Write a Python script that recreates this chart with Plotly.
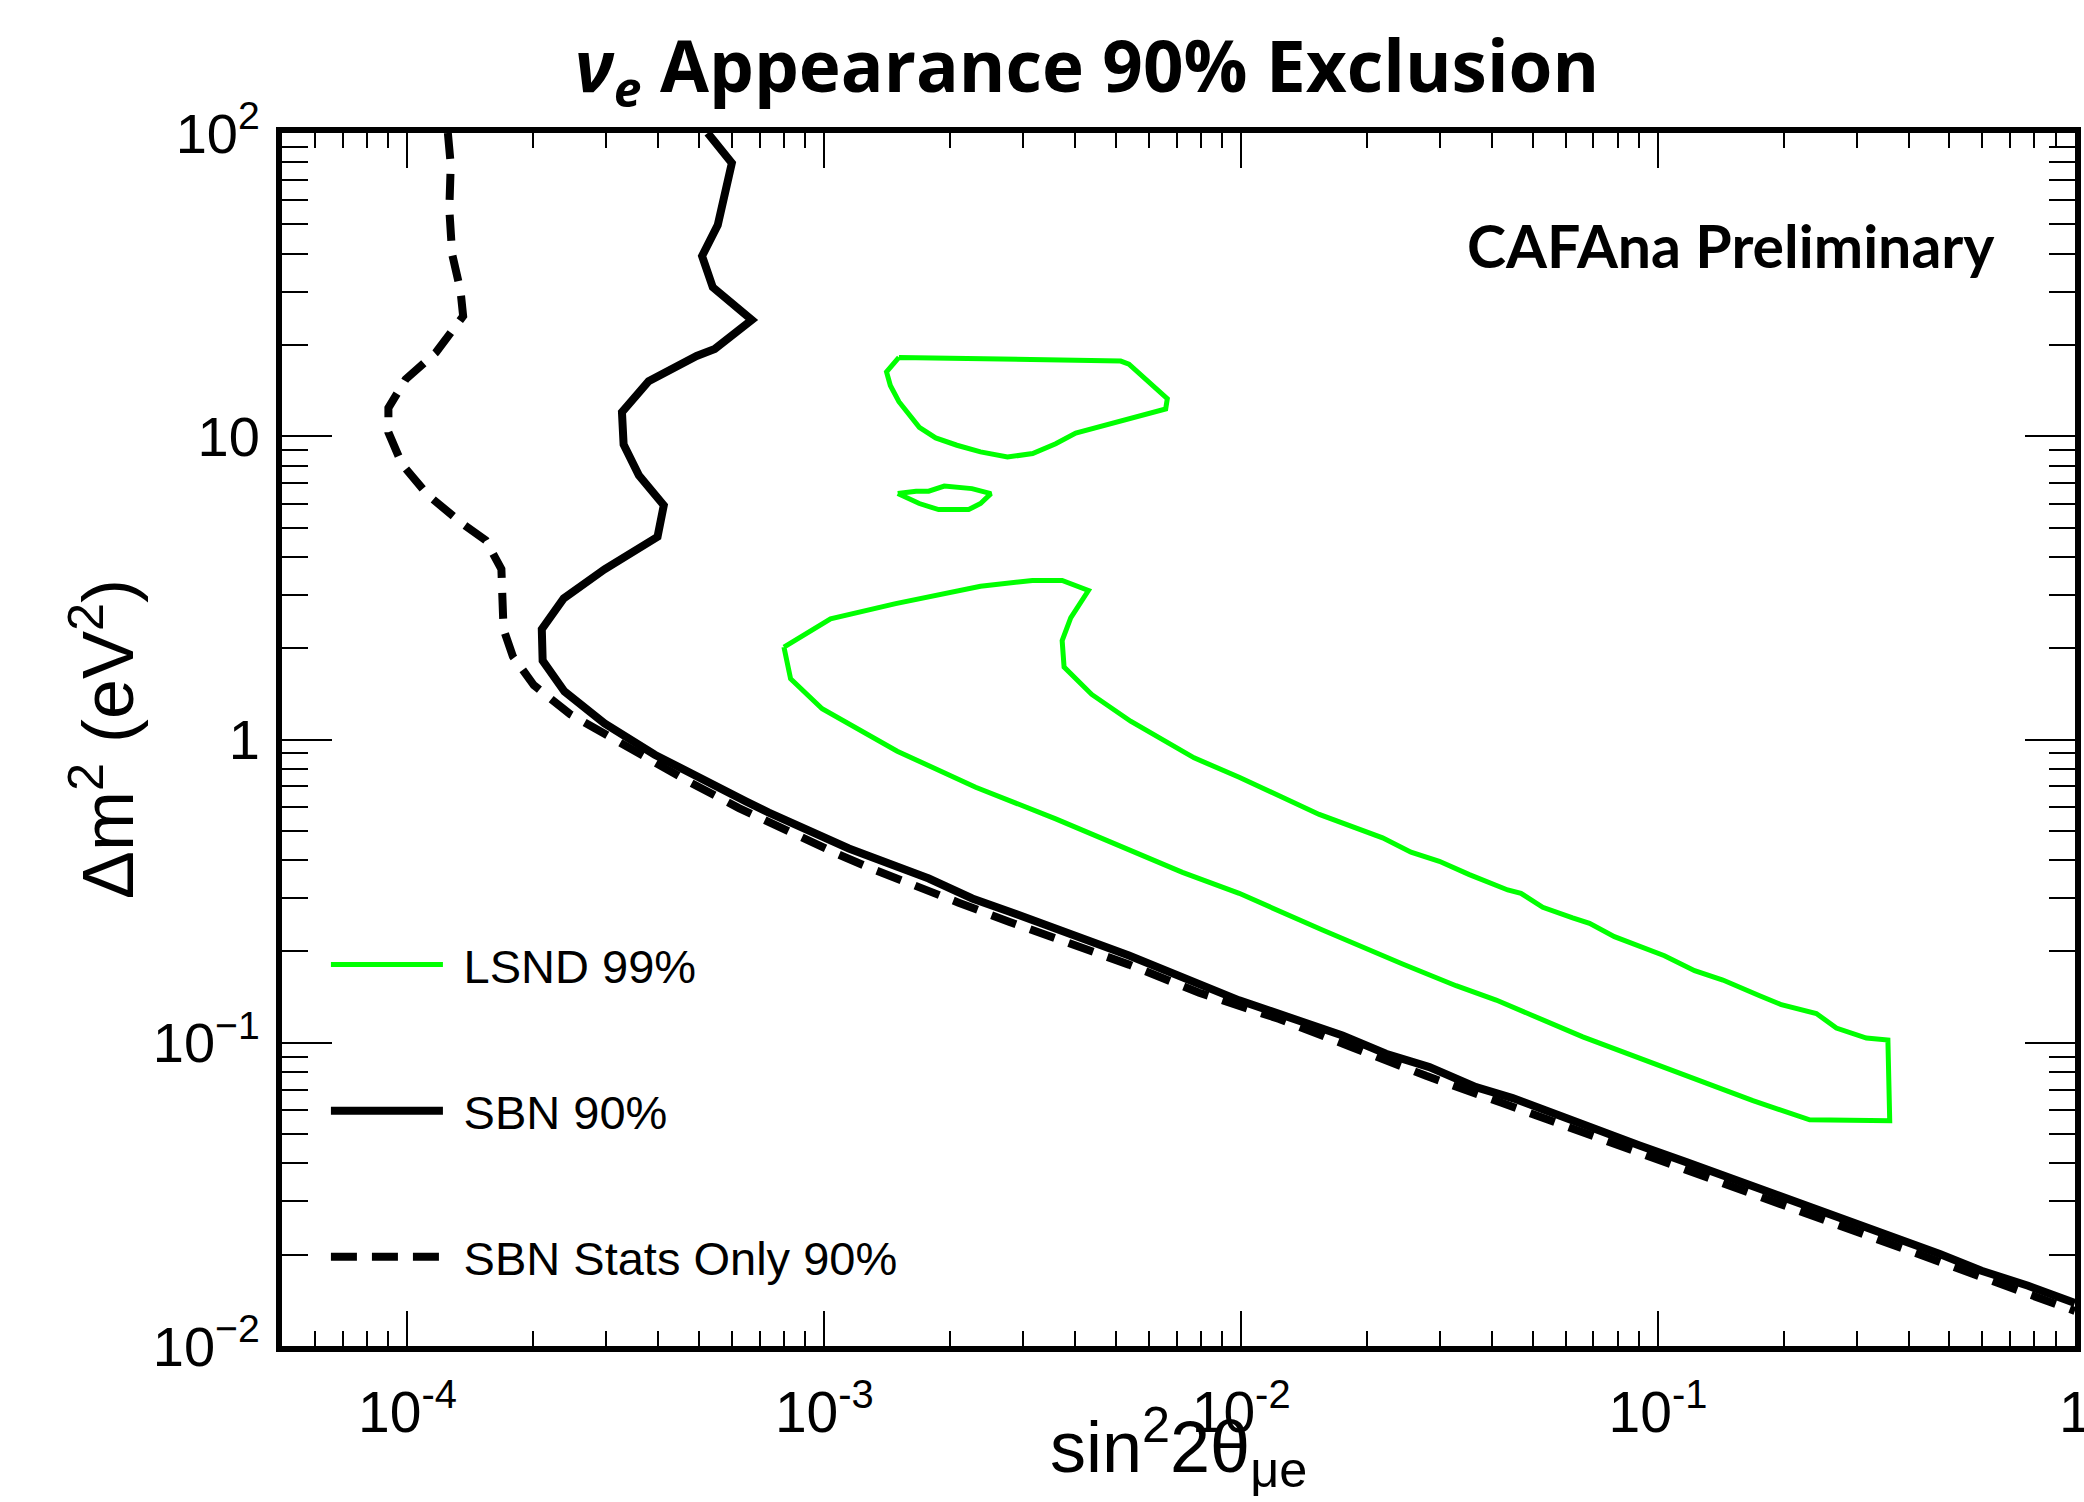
import plotly.graph_objects as go

# ---------------- data ----------------
# SBN 90% sensitivity (solid black)
sbn_x = [5.25e-4, 6.0e-4, 5.55e-4, 5.09e-4, 5.4e-4, 6.7e-4, 5.46e-4, 4.94e-4, 3.79e-4, 3.27e-4,
         3.3e-4, 3.59e-4, 4.12e-4, 3.98e-4, 2.97e-4, 2.37e-4, 2.1e-4, 2.11e-4, 2.38e-4, 2.97e-4,
         3.92e-4, 5.05e-4, 6.5e-4, 7.36e-4, 1.145e-3, 1.781e-3, 2.264e-3, 2.773e-3, 5.38e-3, 9.89e-3,
         1.328e-2, 1.75e-2, 2.225e-2, 2.828e-2, 3.66e-2, 4.48e-2, 5.80e-2, 7.17e-2, 9.03e-2, 0.1169,
         0.1852, 0.2269, 0.2935, 0.3596, 0.4742, 0.597, 0.7724, 1.0]
sbn_y = [100, 79.6, 49.7, 39.3, 31.0, 24.2, 19.4, 18.4, 15.2, 12.0,
         9.4, 7.43, 5.92, 4.66, 3.64, 2.92, 2.31, 1.82, 1.44, 1.13,
         0.891, 0.741, 0.624, 0.574, 0.437, 0.348, 0.299, 0.271, 0.194, 0.138,
         0.120, 0.1057, 0.092, 0.0831, 0.0714, 0.0657, 0.0576, 0.052, 0.0458, 0.0404,
         0.0322, 0.0287, 0.0256, 0.02285, 0.0201, 0.0177, 0.0158, 0.01387]

# SBN stats-only 90% sensitivity (dashed black)
stat_x = [1.25e-4, 1.27e-4, 1.26e-4, 1.28e-4, 1.34e-4, 1.36e-4, 1.17e-4, 9.9e-5, 9.0e-5, 9.0e-5,
          9.7e-5, 1.12e-4, 1.36e-4, 1.54e-4, 1.68e-4, 1.70e-4, 1.79e-4, 2.01e-4, 2.46e-4, 3.44e-4,
          4.73e-4, 6.24e-4, 8.72e-4, 1.073e-3, 1.302e-3, 1.595e-3, 2.10e-3, 2.773e-3, 5.38e-3, 7.93e-3,
          1.234e-2, 1.85e-2, 2.777e-2, 4.2e-2, 6.30e-2, 9.54e-2, 0.1437, 0.2167, 0.3249, 0.492,
          0.7447, 1.0]
stat_y = [100, 78.7, 56.0, 39.8, 30.3, 24.9, 18.9, 15.4, 12.4, 10.3,
          8.09, 6.39, 5.13, 4.54, 3.65, 2.31, 1.88, 1.51, 1.21, 0.923,
          0.726, 0.594, 0.476, 0.4196, 0.3745, 0.334, 0.2897, 0.2507, 0.181, 0.1462,
          0.1198, 0.0965, 0.0778, 0.0635, 0.0519, 0.0418, 0.0346, 0.0279, 0.02278, 0.0186,
          0.0152, 0.01305]

# LSND 99% allowed region: three closed contours
lsnd_band_x = [8.0e-4, 1.035e-3, 1.483e-3, 2.37e-3, 3.155e-3, 3.72e-3, 4.30e-3, 3.90e-3, 3.72e-3, 3.76e-3,
               4.38e-3, 5.43e-3, 7.71e-3, 9.89e-3, 1.539e-2, 2.184e-2, 2.555e-2, 2.988e-2, 3.527e-2, 4.36e-2,
               4.69e-2, 5.29e-2, 6.24e-2, 6.85e-2, 7.86e-2, 9.03e-2, 0.1036, 0.1224, 0.1431, 0.1753,
               0.1976, 0.2398, 0.2678, 0.3161, 0.356, 0.3596, 0.2311, 0.1689, 0.1258, 0.1066,
               0.066, 0.0409, 0.03277, 0.02439, 0.01567, 9.89e-3, 7.23e-3, 3.59e-3, 2.307e-3, 1.496e-3,
               9.88e-4, 8.30e-4, 8.0e-4]
lsnd_band_y = [2.017, 2.50, 2.805, 3.20, 3.347, 3.347, 3.10, 2.52, 2.12, 1.733,
               1.408, 1.149, 0.870, 0.751, 0.566, 0.474, 0.425, 0.3966, 0.3585, 0.319,
               0.311, 0.2796, 0.258, 0.2475, 0.2237, 0.2074, 0.1937, 0.1728, 0.161, 0.1429,
               0.1335, 0.1249, 0.1118, 0.1036, 0.1021, 0.0553, 0.0557, 0.0644, 0.0749, 0.0819,
               0.1046, 0.1383, 0.1542, 0.1818, 0.2353, 0.311, 0.3648, 0.5475, 0.696, 0.915,
               1.263, 1.586, 2.017]
lsnd_upper_x = [1.51e-3, 5.14e-3, 5.38e-3, 6.65e-3, 6.59e-3, 4.01e-3, 3.59e-3, 3.16e-3, 2.75e-3, 2.37e-3,
                2.08e-3, 1.85e-3, 1.69e-3, 1.51e-3, 1.44e-3, 1.41e-3, 1.51e-3]
lsnd_upper_y = [18.2, 17.7, 17.3, 13.3, 12.3, 10.25, 9.45, 8.77, 8.54, 8.88,
                9.34, 9.87, 10.7, 13.0, 14.7, 16.3, 18.2]
lsnd_small_x = [1.50e-3, 1.66e-3, 1.78e-3, 1.94e-3, 2.26e-3, 2.51e-3, 2.37e-3, 2.22e-3, 1.88e-3, 1.69e-3, 1.50e-3]
lsnd_small_y = [6.47, 6.59, 6.59, 6.85, 6.72, 6.47, 6.0, 5.73, 5.73, 6.0, 6.47]

x_tickvals = [1e-4, 1e-3, 1e-2, 1e-1, 1]
x_ticktext = ["10<sup>-4</sup>", "10<sup>-3</sup>", "10<sup>-2</sup>", "10<sup>-1</sup>", "1"]
y_tickvals = [1e-2, 1e-1, 1, 10, 100]
y_ticktext = ["10<sup>\u22122</sup>", "10<sup>\u22121</sup>", "1", "10", "10<sup>2</sup>"]

# ---------------- figure ----------------
lsnd_x = lsnd_band_x + [None] + lsnd_upper_x + [None] + lsnd_small_x
lsnd_y = lsnd_band_y + [None] + lsnd_upper_y + [None] + lsnd_small_y

gap = "\u2006\u2006"
fig = go.Figure()
fig.add_trace(go.Scatter(x=lsnd_x, y=lsnd_y, mode="lines", name=gap + "LSND 99%",
                         line=dict(color="#00ff00", width=5), connectgaps=False,
                         legendgroup="a"))
fig.add_trace(go.Scatter(x=sbn_x, y=sbn_y, mode="lines", name=gap + "SBN 90%",
                         line=dict(color="black", width=8), legendgroup="b"))
fig.add_trace(go.Scatter(x=stat_x, y=stat_y, mode="lines", name=gap + "SBN Stats Only 90%",
                         line=dict(color="black", width=8, dash="26px,15px"), legendgroup="c"))

tick_font = dict(family="Liberation Sans, Arial, sans-serif", size=56, color="black")
fig.update_layout(
    width=2084, height=1502,
    margin=dict(l=282, r=9, t=133, b=156, autoexpand=False),
    paper_bgcolor="white", plot_bgcolor="white",
    showlegend=True,
    legend=dict(x=0.0245, y=0.345, xanchor="left", yanchor="top",
                font=dict(family="Liberation Sans, Arial, sans-serif", size=47, color="black"),
                bgcolor="rgba(0,0,0,0)", traceorder="grouped", tracegroupgap=82,
                itemwidth=112),
    title=dict(text="<i>\u03bd</i><sub><i>e</i></sub> Appearance 90% Exclusion",
               x=0.5216, xanchor="center", y=0.955, yanchor="middle",
               font=dict(family="Open Sans, Lato, sans-serif", size=71, color="black", weight="bold")),
    xaxis=dict(type="log", range=[-4.301, 0.0003], showgrid=False, zeroline=False,
               showline=True, linewidth=6, linecolor="black", mirror="allticks",
               ticks="inside", ticklen=35, tickwidth=2, tickcolor="black",
               tickvals=x_tickvals, ticktext=x_ticktext, tickfont=dict(tick_font, size=57),
               ticklabelstandoff=12, ticklabeloverflow="allow", automargin=False,
               minor=dict(ticks="inside", ticklen=15, tickwidth=2, tickcolor="black", dtick="D1", showgrid=False)),
    yaxis=dict(type="log", range=[-2, 2], showgrid=False, zeroline=False,
               showline=True, linewidth=6, linecolor="black", mirror="allticks",
               ticks="inside", ticklen=50, tickwidth=2, tickcolor="black",
               tickvals=y_tickvals, ticktext=y_ticktext, tickfont=tick_font,
               ticklabelstandoff=5, automargin=False,
               minor=dict(ticks="inside", ticklen=26, tickwidth=2, tickcolor="black", dtick="D1", showgrid=False)),
    annotations=[
        dict(text="<b>CAFAna Preliminary</b>", xref="paper", yref="paper",
             x=0.9565, y=0.9075, xanchor="right", yanchor="middle", showarrow=False,
             font=dict(family="Lato, Open Sans, sans-serif", size=59, color="black")),
        dict(text="sin<sup>2</sup>2\u03b8<sub>\u03bce</sub>", xref="paper", yref="paper",
             x=0.5, y=-0.127, xanchor="center", yanchor="bottom", showarrow=False,
             font=dict(family="Liberation Sans, Arial, sans-serif", size=72, color="black")),
        dict(text="\u0394m<sup>2</sup> (eV<sup>2</sup>)", xref="paper", yref="paper",
             x=-0.1, y=0.5, xanchor="center", yanchor="middle", showarrow=False, textangle=-90,
             font=dict(family="Liberation Sans, Arial, sans-serif", size=72, color="black")),
    ],
)

fig.write_html("out.html")
